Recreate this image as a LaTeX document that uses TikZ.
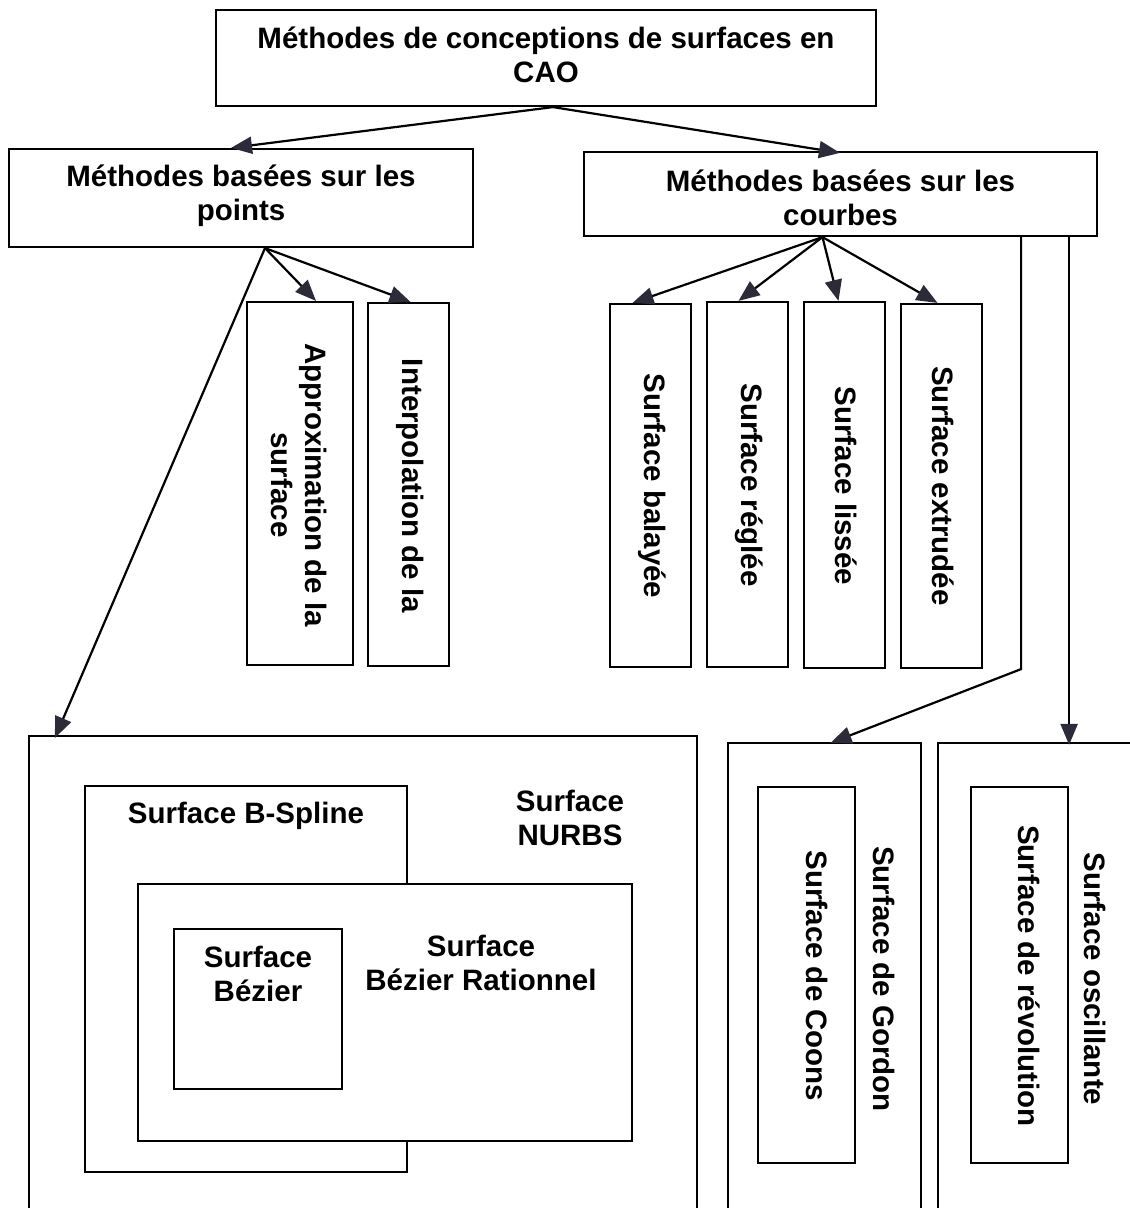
\documentclass[tikz,border=0pt]{standalone}
\usepackage{fontspec}
\setmainfont{Liberation Sans}
\usetikzlibrary{arrows.meta,calc}
\definecolor{tipcol}{HTML}{2B2B3A}
\begin{document}
\begin{tikzpicture}[x=1pt,y=-1pt,
  every node/.style={font=\bfseries\fontsize{29.5}{34}\selectfont, align=center, inner sep=0pt},
  box/.style={draw, line width=2.2pt, rectangle},
  vtext/.style={rotate=-90},
  arr/.style={line width=2.2pt, -{Triangle[length=21pt,width=17pt,color=tipcol]}}]
\useasboundingbox (0,0) rectangle (1130,1208);
\clip (0,0) rectangle (1130,1208);
\fill[white] (0,0) rectangle (1130,1208);

% top level
\node[box, minimum width=660pt, minimum height=96pt] (top) at (546,58) {};
\node (toptxt) at (546,55) {Méthodes de conceptions de surfaces en\\CAO};

% second level
\node[box, minimum width=464pt, minimum height=98pt] (lp) at (241,198) {};
\node (lptxt) at (241,196) {Méthodes basées sur les\\points};
\node[box, minimum width=513pt, minimum height=84pt] (rc) at (840.5,194) {};
\node (rctxt) at (840.5,198) {Méthodes basées sur les\\courbes};

% point based methods
\node[box, minimum width=106pt, minimum height=363pt] (approx) at (300,483.5) {};
\node[vtext] at (299,485) {Approximation de la\\surface};
\node[box, minimum width=81pt, minimum height=363pt] (interp) at (408.5,484.5) {};
\node[vtext] at (410,486) {Interpolation de la};

% curve based methods
\node[box, minimum width=81pt, minimum height=363pt] (bal) at (650.5,485.5) {};
\node[vtext] at (652,486) {Surface balayée};
\node[box, minimum width=81pt, minimum height=365pt] (reg) at (747.5,484.5) {};
\node[vtext] at (749,485) {Surface réglée};
\node[box, minimum width=81pt, minimum height=366pt] (lis) at (844.5,485) {};
\node[vtext] at (846,486) {Surface lissée};
\node[box, minimum width=81pt, minimum height=364pt] (ext) at (941.5,486) {};
\node[vtext] at (943,486) {Surface extrudée};

% NURBS family
\node[box, minimum width=668pt, minimum height=480pt] (nurbs) at (363,976) {};
\node at (570,818) {Surface\\NURBS};
\node[box, minimum width=322pt, minimum height=386pt] (bsp) at (246,979) {};
\node at (246,816) {Surface B-Spline};
\node[box, fill=white, minimum width=494pt, minimum height=257pt] (brat) at (385,1012.5) {};
\node at (481,963) {Surface\\Bézier Rationnel};
\node[box, minimum width=168pt, minimum height=160pt] (bez) at (258,1009) {};
\node at (258,974) {Surface\\Bézier};

% Gordon / Coons
\node[box, minimum width=193pt, minimum height=480pt] (gor) at (824.5,983) {};
\node[vtext] at (884,979) {Surface de Gordon};
\node[box, minimum width=97pt, minimum height=376pt] (coons) at (806.5,975) {};
\node[vtext] at (817,976) {Surface de Coons};

% oscillating / revolution
\node[box, minimum width=212pt, minimum height=480pt] (osc) at (1044,983) {};
\node[vtext] at (1095,979) {Surface oscillante};
\node[box, minimum width=97pt, minimum height=376pt] (rev) at (1019.5,975) {};
\node[vtext] at (1029,976) {Surface de révolution};

% connectors
\draw[arr] ([xshift=7pt]top.south) -- ([xshift=-10pt]lp.north);
\draw[arr] ([xshift=7pt]top.south) -- ([xshift=-0.5pt,yshift=-2pt]rc.north);

\draw[arr] ([xshift=24pt]lp.south) -- ([xshift=16pt]approx.north);
\draw[arr] ([xshift=24pt]lp.south) -- ([xshift=2pt]interp.north);
\draw[arr] ([xshift=24pt]lp.south) -- ([xshift=27pt,yshift=-3pt]nurbs.north west);

\draw[arr] ([xshift=-18pt]rc.south) -- ([xshift=-18pt]bal.north);
\draw[arr] ([xshift=-18pt]rc.south) -- ([xshift=-9pt]reg.north);
\draw[arr] ([xshift=-18pt]rc.south) -- ([xshift=-6pt]lis.north);
\draw[arr] ([xshift=-18pt]rc.south) -- ([xshift=-4pt]ext.north);

\coordinate (bend) at ([xshift=-77pt]rc.south east |- lis.south);
\draw[arr] ([xshift=-77pt]rc.south east) -- (bend) -- ([xshift=6pt,yshift=-1pt]gor.north);
\draw[arr] ([xshift=-29pt]rc.south east) -- ([xshift=-29pt,yshift=-3pt]rc.south east |- osc.north);
\end{tikzpicture}
\end{document}
